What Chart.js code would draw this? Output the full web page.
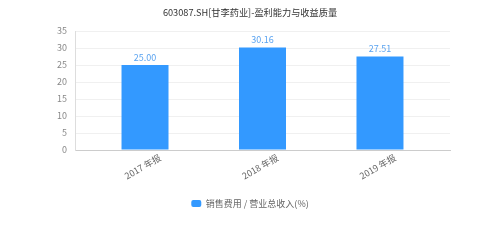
<!DOCTYPE html>
<html><head><meta charset="utf-8">
<script src="https://cdn.jsdelivr.net/npm/chart.js@4/dist/chart.umd.min.js"></script>
<style>html,body{margin:0;padding:0;background:#fff}#wrap{width:500px;height:250px}</style>
</head><body><div id="wrap"><canvas id="c" width="500" height="250"></canvas></div>
<script>
const titleText = '603087.SH[甘李药业]-盈利能力与收益质量';
const categories = ['2017 年报', '2018 年报', '2019 年报'];
const seriesName = '销售费用 / 营业总收入(%)';
const seriesValues = [25.00, 30.16, 27.51];
const yTicks = [0, 5, 10, 15, 20, 25, 30, 35];

const SANS = '"Noto Sans CJK SC", "Noto Sans", sans-serif';

const valueLabels = {
  id: 'valueLabels',
  afterDatasetsDraw(chart) {
    const ctx = chart.ctx;
    ctx.save();
    ctx.fillStyle = '#5aa3f0';
    ctx.font = '9px ' + SANS;
    ctx.textAlign = 'center';
    ctx.textBaseline = 'bottom';
    chart.getDatasetMeta(0).data.forEach((bar, i) => {
      ctx.fillText(seriesValues[i].toFixed(2), bar.x, bar.y - 3);
    });
    ctx.restore();
  }
};

new Chart(document.getElementById('c'), {
  type: 'bar',
  data: {
    datasets: [{
      label: seriesName,
      data: seriesValues.map((v, i) => ({x: i, y: v})),
      backgroundColor: '#3399ff',
      borderWidth: 0,
      barPercentage: 0.4,
      categoryPercentage: 1.0
    }]
  },
  options: {
    responsive: false,
    animation: false,
    devicePixelRatio: 1,
    layout: {padding: {left: 0, right: 0, top: 0, bottom: 32}},
    plugins: {
      title: {
        display: true, text: titleText, color: '#333',
        font: {family: SANS, size: 9.2, weight: 'normal'},
        padding: {top: 7, bottom: 13}
      },
      legend: {
        position: 'bottom',
        labels: {
          boxWidth: 10, boxHeight: 7, useBorderRadius: true, borderRadius: 2,
          color: '#666', font: {family: SANS, size: 9}, padding: 10
        }
      },
      tooltip: {enabled: false}
    },
    scales: {
      x: {
        type: 'linear',
        min: -0.596, max: categories.length - 1 + 0.596,
        offset: false,
        grid: {display: false, drawTicks: false},
        border: {color: '#ccc'},
        afterFit: s => { s.height = 39; },
        afterBuildTicks: s => { s.ticks = categories.map((c, i) => ({value: i})); },
        ticks: {
          autoSkip: false, includeBounds: false, stepSize: 1,
          minRotation: 30, maxRotation: 30, labelOffset: 15, padding: 2,
          color: '#666', font: {family: SANS, size: 9},
          callback: v => categories[v] ?? ''
        }
      },
      y: {
        min: 0, max: 35,
        afterFit: s => { s.width = 75; },
        afterBuildTicks: s => { s.ticks = yTicks.map(v => ({value: v})); },
        grid: {color: '#f0f0f0', drawTicks: false},
        border: {color: '#ddd', width: 1},
        ticks: {stepSize: 5, padding: 8, color: '#888', font: {family: SANS, size: 9}}
      },
      yr: {
        position: 'right', display: true,
        grid: {display: false, drawTicks: false},
        border: {display: false},
        ticks: {display: false},
        afterFit: s => { s.width = 50; }
      }
    }
  },
  plugins: [valueLabels]
});
</script></body></html>
